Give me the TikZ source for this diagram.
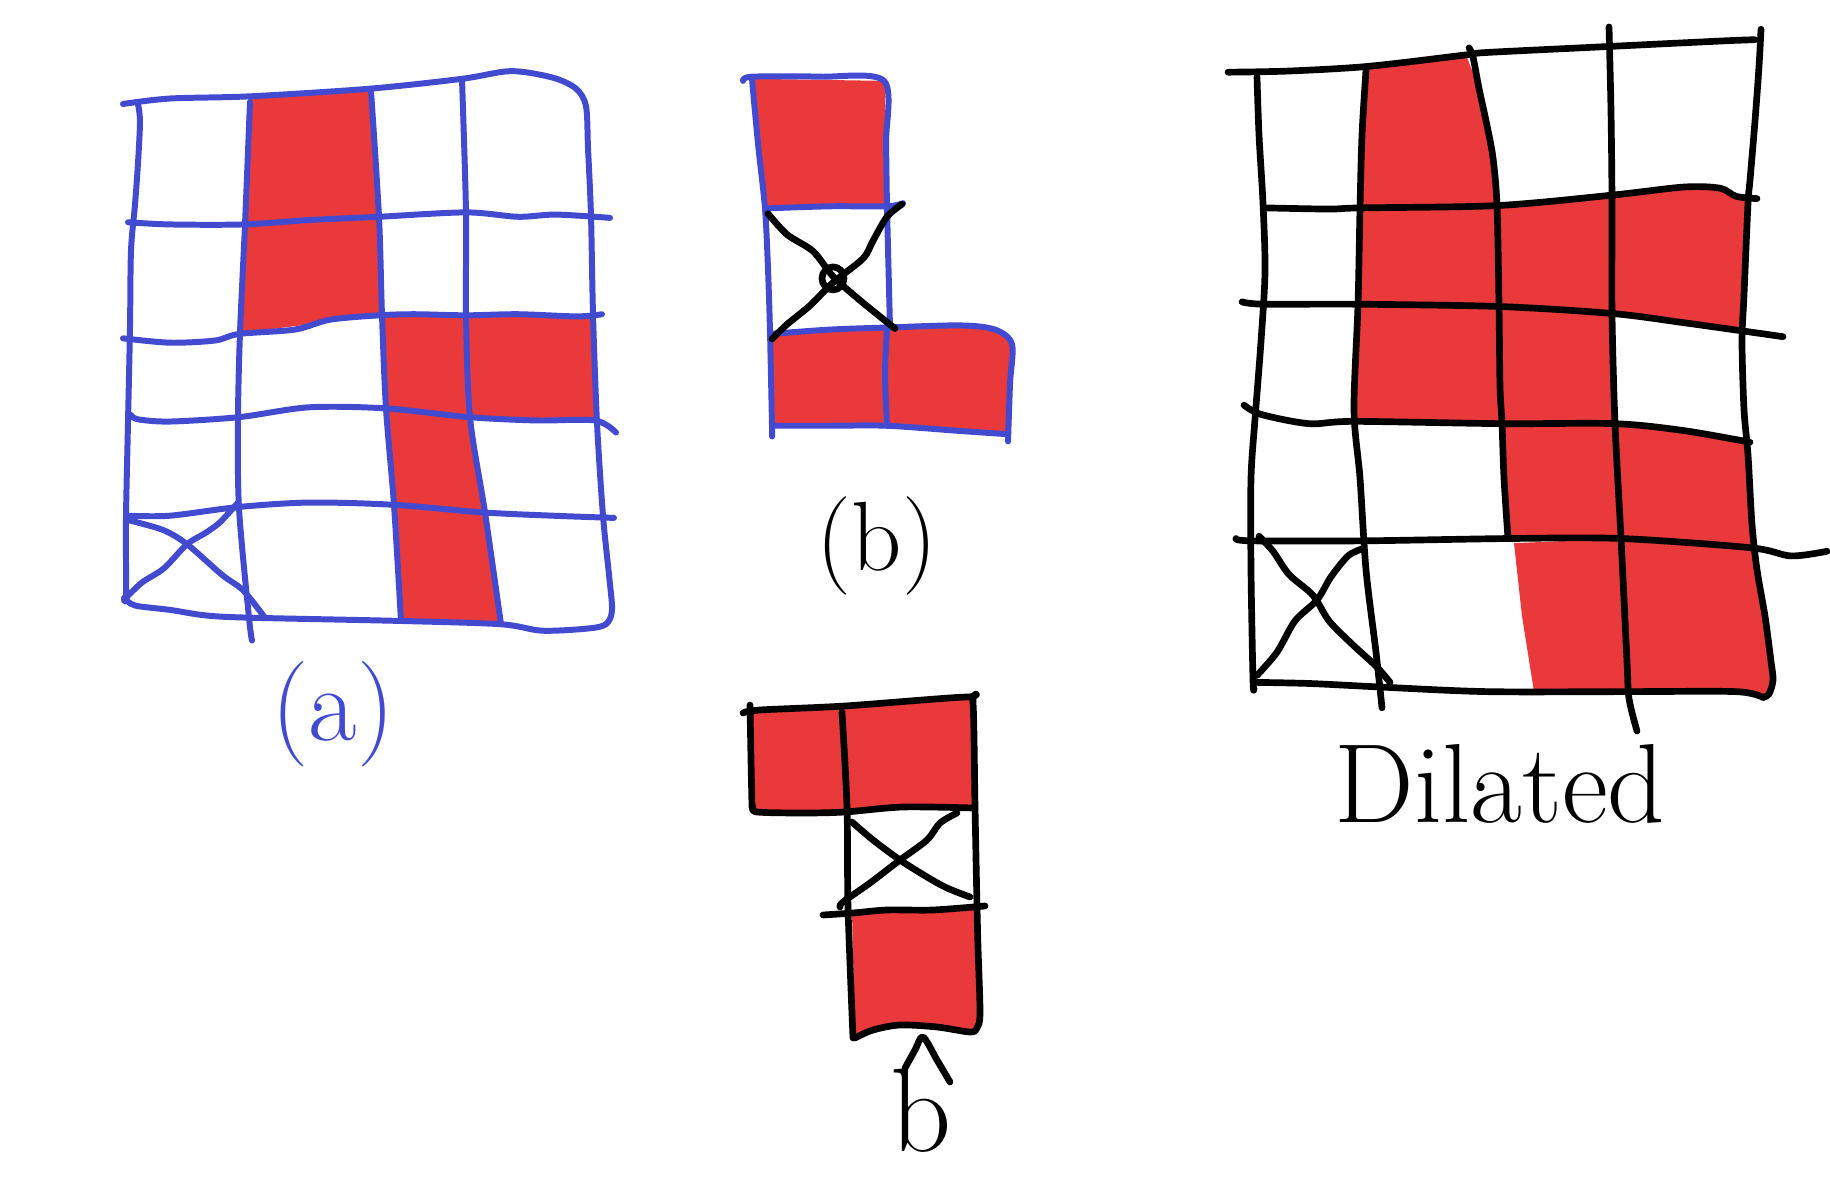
\documentclass[tikz,border=0pt]{standalone}
\usepackage{fontspec}
\begin{document}
\begin{tikzpicture}[x=0.01cm,y=-0.01cm,line cap=round,line join=round]
\definecolor{penblue}{RGB}{66,74,208}
\definecolor{fillred}{RGB}{234,57,58}
\tikzset{
  blueline/.style={draw=penblue,line width=1.7pt},
  blackline/.style={draw=black,line width=1.9pt},
  redcell/.style={fill=fillred,draw=none},
  hand/.style={smooth,tension=0.5},
  lbl/.style={inner sep=0pt,font=\fontsize{30}{34}\selectfont},
}
\useasboundingbox (0,0) rectangle (1830,1183);
\fill[white] (0,0) rectangle (1830,1183);

%================ (a) =================
\begin{scope}[shift={(0,-5.5)},yscale=1.095]
\coordinate (a00) at (138,100); \coordinate (a01) at (134,208); \coordinate (a02) at (130,314);
\coordinate (a03) at (129,389); \coordinate (a04) at (127,476); \coordinate (a05) at (126,551);
\coordinate (a10) at (250,93);  \coordinate (a11) at (245,210); \coordinate (a12) at (240,309);
\coordinate (a13) at (238,386); \coordinate (a14) at (239,469); \coordinate (a15) at (249,569);
\coordinate (a20) at (370,86);  \coordinate (a21) at (379,203); \coordinate (a22) at (382,293);
\coordinate (a23) at (386,378); \coordinate (a24) at (394,466); \coordinate (a25) at (401,572);
\coordinate (a30) at (462,77);  \coordinate (a31) at (466,199); \coordinate (a32) at (466,293);
\coordinate (a33) at (470,386); \coordinate (a34) at (485,473); \coordinate (a35) at (501,575);
\coordinate (a40) at (586,102); \coordinate (a41) at (591,202); \coordinate (a42) at (593,292);
\coordinate (a43) at (597,391); \coordinate (a44) at (603,476); \coordinate (a45) at (612,562);

\fill[redcell] (a10) -- (a20) -- (a21) -- (a11) -- cycle;
\fill[redcell] (a11) -- (a21) -- (a22) -- (a12) -- cycle;
\fill[redcell] (a22) -- (a32) -- (a33) -- (a23) -- cycle;
\fill[redcell] (a32) -- (a42) -- (a43) -- (a33) -- cycle;
\fill[redcell] (a23) -- (a33) -- (a34) -- (a24) -- cycle;
\fill[redcell] (a24) -- (a34) -- (a35) -- (a25) -- cycle;

\draw[blueline] plot[hand] coordinates {(123,100) (170,95) (a10) (a20) (a30) (511,70) (553,76) (576,86) (a40) (588,140) (a41) (a42) (a43) (a44) (609,530) (a45) (606,575) (588,579) (542,581) (a35) (a25) (a15) (205,567) (170,562) (135,558) (124,551)};
\draw[blueline] plot[hand] coordinates {(a00) (140,116) (138,154) (135,192) (131,234) (130,304) (128,391) (126,478) (126,548) (124,553)};
\draw[blueline] plot[hand] coordinates {(250,98) (a11) (a12) (a13) (a14) (a15) (252,590)};
\draw[blueline] plot[hand] coordinates {(371,88) (a21) (a22) (a23) (a24) (a25)};
\draw[blueline] plot[hand] coordinates {(a30) (a31) (a32) (a33) (a34) (a35)};
\draw[blueline] plot[hand] coordinates {(128,208) (170,210) (243,210) (309,206) (379,203) (466,199) (518,203) (556,201) (610,204)};
\draw[blueline] plot[hand] coordinates {(123,314) (170,318) (215,316) (239,310) (295,306) (330,297) (379,293) (414,292) (466,293) (518,292) (577,294) (602,292)};
\draw[blueline] plot[hand] coordinates {(131,384) (138,388) (170,390) (239,386) (309,377) (386,378) (469,386) (536,389) (595,389) (616,400)};
\draw[blueline] plot[hand] coordinates {(128,476) (170,476) (239,468) (309,464) (393,466) (483,473) (553,476) (614,478)};
\draw[blueline] plot[hand] coordinates {(126,551) (142,537) (164,524) (187,502) (205,492) (220,482) (238,464)};
\draw[blueline] plot[hand] coordinates {(128,480) (163,489) (187,502) (222,530) (243,544) (264,568)};
\end{scope}
\node[lbl,text=penblue] (la) at (333,714) {(a)};

%================ (b) =================
\begin{scope}[shift={(0,-2.7)},yscale=1.045]
\fill[redcell] (752,78) -- (885,80) -- (886,200) -- (765,202) -- cycle;
\fill[redcell] (770,320) -- (887,316) -- (887,410) -- (772,410) -- cycle;
\fill[redcell] (887,316) -- (960,314) -- (995,318) -- (1012,330) -- (1008,420) -- (887,410) -- cycle;
\draw[blueline] plot[hand] coordinates {(743,80) (752,76) (820,76) (884,80) (886,140) (887,200) (890,316)};
\draw[blueline] plot[hand] coordinates {(752,78) (758,140) (765,202) (768,260) (770,320) (772,410) (772,420)};
\draw[blueline] plot[hand] coordinates {(767,202) (830,200) (887,200) (903,197)};
\draw[blueline] plot[hand] coordinates {(772,322) (830,318) (887,316) (960,314) (995,318) (1012,332) (1010,370) (1008,425)};
\draw[blueline] plot[hand] coordinates {(772,410) (830,410) (887,410) (960,415) (1006,418)};
\draw[blueline] plot[hand] coordinates {(887,318) (885,360) (887,410)};
\draw[blackline] plot[hand] coordinates {(772,327) (787,313) (810,295) (833,273) (863,250) (873,233) (887,210) (902,198)};
\draw[blackline] plot[hand] coordinates {(768,207) (787,227) (813,243) (833,267) (860,290) (895,317)};
\draw[blackline] (833,269) circle [radius=11];
\end{scope}
\node[lbl,font=\fontsize{28}{32}\selectfont] (lb) at (877,546) {(b)};

%================ b hat =================
\fill[redcell] (752,708) -- (845,706) -- (847,810) -- (753,810) -- cycle;
\fill[redcell] (845,706) -- (967,697) -- (973,703) -- (975,808) -- (847,810) -- cycle;
\fill[redcell] (852,912) -- (977,906) -- (980,1013) -- (977,1030) -- (937,1027) -- (900,1025) -- (855,1038) -- cycle;
\draw[blackline] plot[hand] coordinates {(743,713) (760,710) (845,706) (967,697) (973,703) (975,807) (977,907) (978,947) (980,1013) (977,1028) (970,1032) (937,1027) (900,1025) (873,1030) (855,1038)};
\draw[blackline] plot[hand] coordinates {(750,705) (751,760) (752,807)};
\draw[blackline] plot[hand] coordinates {(753,807) (757,812) (803,813) (845,812) (903,807) (973,808)};
\draw[blackline] plot[hand] coordinates {(842,712) (847,807) (848,907) (853,1038)};
\draw[blackline] plot[hand] coordinates {(823,915) (853,913) (887,910) (933,910) (985,906)};
\draw[blackline] plot[hand] coordinates {(852,822) (873,840) (900,860) (927,877) (947,888) (970,897)};
\draw[blackline] plot[hand] coordinates {(840,907) (843,902) (870,883) (900,860) (927,840) (940,823) (957,813)};
\draw[blackline] plot[hand] coordinates {(905,1068) (915,1050) (923,1037) (937,1060) (950,1082)};
\node[lbl,font=\fontsize{34}{38}\selectfont,anchor=base] (lbhat) at (921,1152) {b};

%================ Dilated =================
\begin{scope}[shift={(0,-3.2)},yscale=1.16]
\coordinate (d00) at (1257,67);  \coordinate (d01) at (1265,182); \coordinate (d02) at (1263,265);
\coordinate (d03) at (1255,362); \coordinate (d04) at (1251,469); \coordinate (d05) at (1255,591);
\coordinate (d10) at (1366,61);  \coordinate (d11) at (1360,182); \coordinate (d12) at (1358,265);
\coordinate (d13) at (1354,366); \coordinate (d14) at (1364,469); \coordinate (d15) at (1380,595);
\coordinate (d20) at (1469,46);  \coordinate (d21) at (1497,180); \coordinate (d22) at (1499,267);
\coordinate (d23) at (1502,368); \coordinate (d24) at (1510,467); \coordinate (d25) at (1534,599);
\coordinate (d30) at (1609,43);  \coordinate (d31) at (1612,171); \coordinate (d32) at (1612,273);
\coordinate (d33) at (1615,368); \coordinate (d34) at (1621,467); \coordinate (d35) at (1627,599);
\coordinate (d40) at (1759,37);  \coordinate (d41) at (1748,175); \coordinate (d42) at (1742,288);
\coordinate (d43) at (1748,384); \coordinate (d44) at (1752,476); \coordinate (d45) at (1773,589);

\fill[redcell] (d10) -- (1466,50) -- (1479,79) -- (1487,111) -- (1493,139) -- (d21) -- (d11) -- cycle;
\fill[redcell] (d11) -- (d21) -- (d22) -- (d12) -- cycle;
\fill[redcell] (d21) -- (d31) -- (d32) -- (d22) -- cycle;
\fill[redcell] (d31) -- (1684,164) -- (1720,165) -- (1736,172) -- (d41) -- (d42) -- (d32) -- cycle;
\fill[redcell] (d12) -- (d22) -- (d23) -- (d13) -- cycle;
\fill[redcell] (d22) -- (d32) -- (d33) -- (d23) -- cycle;
\fill[redcell] (d23) -- (d33) -- (d34) -- (d24) -- cycle;
\fill[redcell] (d33) -- (d43) -- (d44) -- (d34) -- cycle;
\fill[redcell] (1514,471) -- (d34) -- (d35) -- (d25) -- (1522,534) -- cycle;
\fill[redcell] (d34) -- (d44) -- (1765,534) -- (d45) -- (1769,601) -- (1763,604) -- (1736,599) -- (d35) -- cycle;

\draw[blackline] plot[hand] coordinates {(1228,65) (1289,64) (1368,60) (1467,50) (1487,48) (1605,43) (1724,38) (1755,37)};
\draw[blackline] plot[hand] coordinates {(1257,69) (1259,119) (1263,178) (1265,237) (1261,297) (1255,364) (1251,415) (1251,494) (1253,589) (1254,596)};
\draw[blackline] plot[hand] coordinates {(1366,63) (1362,119) (1360,182) (1358,265) (1354,356) (1360,415) (1366,494) (1376,565) (1382,613)};
\draw[blackline] plot[hand] coordinates {(1469,44) (1473,52) (1479,79) (1487,111) (1493,139) (1497,180) (1499,265) (1500,336) (1502,368) (1504,415) (1508,467)};
\draw[blackline] plot[hand] coordinates {(1609,26) (1611,99) (1612,178) (1612,273) (1615,368) (1621,467) (1627,573) (1629,605) (1637,633)};
\draw[blackline] plot[hand] coordinates {(1761,28) (1759,60) (1755,107) (1750,158) (1748,178) (1744,257) (1742,297) (1744,356) (1748,395) (1752,455) (1757,494) (1765,534) (1771,573) (1773,589) (1769,601) (1763,604)};
\draw[blackline] plot[hand] coordinates {(1267,182) (1329,183) (1360,182) (1497,180) (1612,171) (1684,164) (1720,165) (1736,172) (1757,174)};
\draw[blackline] plot[hand] coordinates {(1242,263) (1263,265) (1356,265) (1499,267) (1612,273) (1684,281) (1742,288) (1783,293)};
\draw[blackline] plot[hand] coordinates {(1244,352) (1261,360) (1309,368) (1354,366) (1502,368) (1615,368) (1684,374) (1750,384)};
\draw[blackline] plot[hand] coordinates {(1236,467) (1251,469) (1364,469) (1510,467) (1621,467) (1751,475) (1791,482) (1827,478)};
\draw[blackline] plot[hand] coordinates {(1254,591) (1310,592) (1380,595) (1487,599) (1627,599) (1736,599) (1763,604)};
\draw[blackline] plot[hand] coordinates {(1259,465) (1273,478) (1289,498) (1313,516) (1329,538) (1352,558) (1376,577) (1390,591)};
\draw[blackline] plot[hand] coordinates {(1362,476) (1348,482) (1331,500) (1317,520) (1295,538) (1277,565) (1257,585)};
\end{scope}
\node[lbl,font=\fontsize{32}{36}\selectfont] (ld) at (1500,784) {Dilated};
\end{tikzpicture}
\end{document}
